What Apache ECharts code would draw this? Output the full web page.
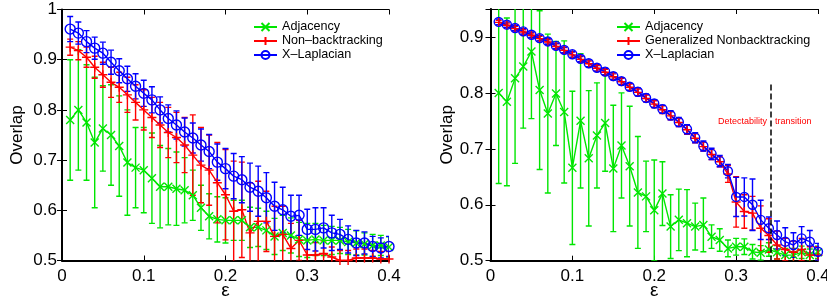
<!DOCTYPE html>
<html>
<head>
<meta charset="utf-8">
<title>overlap vs epsilon</title>
<script src="https://cdn.jsdelivr.net/npm/echarts@6/dist/echarts.min.js"></script>
<style>
  html, body { margin: 0; padding: 0; background: #fff; }
  #chart { width: 827px; height: 298px; }
</style>
</head>
<body>
<div id="chart"></div>
<script>
// x values (epsilon)
var eps = [0.01,0.02,0.03,0.04,0.05,0.06,0.07,0.08,0.09,0.10,
           0.11,0.12,0.13,0.14,0.15,0.16,0.17,0.18,0.19,0.20,
           0.21,0.22,0.23,0.24,0.25,0.26,0.27,0.28,0.29,0.30,
           0.31,0.32,0.33,0.34,0.35,0.36,0.37,0.38,0.39,0.40];

// left panel
var leftAdj = [0.78,0.80,0.775,0.735,0.763,0.75,0.728,0.695,0.685,0.68,0.664,0.647,0.647,0.643,0.64,0.63,0.605,0.588,0.582,0.58,
               0.58,0.58,0.566,0.566,0.56,0.548,0.555,0.55,0.542,0.54,0.542,0.54,0.54,0.54,0.537,0.535,0.533,0.53,0.53,0.527];
var leftAdjErr = [0.12,0.12,0.115,0.13,0.085,0.1,0.1,0.105,0.08,0.085,0.09,0.082,0.076,0.073,0.065,0.05,0.045,0.045,0.045,0.045,
                  0.04,0.04,0.04,0.038,0.038,0.036,0.035,0.035,0.034,0.034,0.032,0.03,0.028,0.026,0.025,0.024,0.022,0.022,0.02,0.02];
var leftNB = [0.925,0.918,0.905,0.885,0.87,0.855,0.845,0.83,0.815,0.8,0.785,0.77,0.755,0.745,0.73,0.71,0.69,0.68,0.655,0.631,
              0.598,0.601,0.555,0.578,0.578,0.548,0.552,0.524,0.54,0.511,0.511,0.514,0.507,0.5,0.5,0.505,0.505,0.505,0.503,0.503];
var leftNBErr = [0.016,0.018,0.02,0.022,0.025,0.03,0.03,0.035,0.035,0.04,0.04,0.045,0.05,0.05,0.055,0.08,0.075,0.07,0.08,0.09,
                 0.1,0.095,0.1,0.08,0.06,0.06,0.056,0.05,0.04,0.03,0.025,0.025,0.02,0.02,0.02,0.018,0.018,0.015,0.015,0.015];
var leftLap = [0.961,0.953,0.936,0.923,0.913,0.895,0.878,0.862,0.847,0.833,0.82,0.8,0.783,0.77,0.756,0.744,0.73,0.717,0.696,0.683,
               0.668,0.661,0.646,0.638,0.625,0.608,0.601,0.588,0.59,0.562,0.562,0.565,0.555,0.552,0.542,0.535,0.535,0.528,0.525,0.528];
var leftLapErr = [0.025,0.022,0.022,0.022,0.022,0.024,0.024,0.025,0.025,0.026,0.026,0.026,0.027,0.028,0.028,0.03,0.032,0.034,0.036,0.04,
                  0.045,0.046,0.048,0.05,0.05,0.048,0.045,0.042,0.04,0.04,0.043,0.04,0.035,0.03,0.027,0.025,0.022,0.02,0.02,0.02];

// right panel
var rightAdj = [0.80,0.784,0.826,0.847,0.874,0.805,0.763,0.799,0.766,0.666,0.75,0.683,0.724,0.746,0.665,0.706,0.669,0.622,0.615,0.59,
                0.62,0.561,0.573,0.567,0.561,0.564,0.543,0.537,0.522,0.525,0.525,0.516,0.514,0.52,0.515,0.51,0.51,0.515,0.51,0.515];
var rightAdjErr = [0.162,0.15,0.152,0.11,0.12,0.142,0.142,0.093,0.127,0.137,0.12,0.121,0.094,0.086,0.113,0.094,0.107,0.1,0.063,0.09,
                   0.057,0.057,0.055,0.06,0.042,0.048,0.021,0.02,0.015,0.015,0.014,0.013,0.013,0.012,0.012,0.012,0.012,0.011,0.011,0.011];
var rightNB = [0.926,0.921,0.915,0.909,0.903,0.897,0.891,0.883,0.876,0.868,0.86,0.852,0.844,0.837,0.829,0.82,0.81,0.801,0.79,0.78,
               0.77,0.759,0.747,0.734,0.719,0.704,0.69,0.677,0.655,0.605,0.588,0.585,0.558,0.545,0.528,0.52,0.515,0.52,0.51,0.51];
var rightNBErr = [0.004,0.004,0.004,0.004,0.004,0.004,0.004,0.005,0.005,0.005,0.005,0.005,0.005,0.005,0.005,0.006,0.006,0.006,0.006,0.006,
                  0.007,0.007,0.007,0.008,0.008,0.008,0.009,0.009,0.015,0.045,0.03,0.03,0.04,0.03,0.025,0.02,0.02,0.02,0.015,0.015];
var rightLap = [0.927,0.922,0.916,0.91,0.904,0.898,0.892,0.884,0.877,0.869,0.861,0.853,0.845,0.838,0.83,0.821,0.811,0.802,0.791,0.781,
                0.771,0.76,0.748,0.735,0.72,0.705,0.691,0.678,0.66,0.614,0.614,0.6,0.573,0.558,0.546,0.534,0.528,0.54,0.534,0.516];
var rightLapErr = [0.005,0.005,0.005,0.005,0.005,0.005,0.005,0.005,0.005,0.005,0.005,0.006,0.006,0.006,0.006,0.006,0.006,0.007,0.007,0.007,
                   0.007,0.008,0.008,0.008,0.009,0.009,0.01,0.01,0.012,0.035,0.034,0.046,0.035,0.02,0.025,0.025,0.022,0.021,0.02,0.015];

var xTicks = [0, 0.4, 0.1];   // min, max, step
var transitionEps = 0.342;

var GREEN = '#00e600', RED = '#ff0000', BLUE = '#0000ff';
var FONT = 'Liberation Sans';

var symX = 'path://M0,0L10,10M10,0L0,10';
var symPlus = 'path://M5,0L5,10M0,5L10,5';
var symCircle = 'path://M10,5A5,5 0 1 1 0,5A5,5 0 1 1 10,5Z';

function pts(vals) {
  return eps.map(function (x, i) { return [x, vals[i]]; });
}
function bars(vals, err) {
  return eps.map(function (x, i) { return [x, vals[i] - err[i], vals[i] + err[i]]; });
}

function errSeries(name, p, vals, err, color) {
  return {
    name: name, type: 'custom', xAxisIndex: p * 2, yAxisIndex: p * 2,
    clip: true, silent: true,
    data: bars(vals, err),
    encode: { x: 0, y: [1, 2] },
    renderItem: function (params, api) {
      var x = api.value(0);
      var lo = api.coord([x, api.value(1)]);
      var hi = api.coord([x, api.value(2)]);
      var w = 3;
      var st = { stroke: color, lineWidth: 1.4 };
      return { type: 'group', children: [
        { type: 'line', shape: { x1: lo[0], y1: lo[1], x2: hi[0], y2: hi[1] }, style: st },
        { type: 'line', shape: { x1: lo[0] - w, y1: lo[1], x2: lo[0] + w, y2: lo[1] }, style: st },
        { type: 'line', shape: { x1: hi[0] - w, y1: hi[1], x2: hi[0] + w, y2: hi[1] }, style: st }
      ]};
    }
  };
}

function lineSeries(name, p, vals, color, symbol, size, fill) {
  return {
    name: name, type: 'line', xAxisIndex: p * 2, yAxisIndex: p * 2,
    data: pts(vals),
    symbol: symbol, symbolSize: size, showSymbol: true,
    lineStyle: { color: color, width: 1.4 },
    itemStyle: { color: fill || color, borderColor: color, borderWidth: 1.4 },
    emphasis: { disabled: true }
  };
}

function xAxes(p) {
  return [{
    type: 'value', gridIndex: p, position: 'bottom',
    min: xTicks[0], max: xTicks[1], interval: xTicks[2],
    name: 'ε', nameLocation: 'middle', nameGap: 21, nameMoveOverlap: false,
    nameTextStyle: { fontFamily: FONT, fontSize: 19, color: '#000' },
    axisLine: { lineStyle: { color: '#000', width: 2 } },
    axisTick: { inside: true, length: 5, lineStyle: { color: '#000' } },
    axisLabel: { fontFamily: FONT, fontSize: 17, color: '#000', margin: 7 },
    splitLine: { show: false }
  }, {
    type: 'value', gridIndex: p, position: 'top',
    min: xTicks[0], max: xTicks[1], interval: xTicks[2],
    axisLine: { lineStyle: { color: '#000', width: 1 } },
    axisTick: { inside: true, length: 5, lineStyle: { color: '#000' } },
    axisLabel: { show: false },
    splitLine: { show: false }
  }];
}

function yAxes(p, max, gap, margin) {
  return [{
    type: 'value', gridIndex: p, position: 'left',
    min: 0.5, max: max, interval: 0.1,
    name: 'Overlap', nameLocation: 'middle', nameGap: gap, nameRotate: 90, nameMoveOverlap: false,
    nameTextStyle: { fontFamily: FONT, fontSize: 17, color: '#000' },
    axisLine: { lineStyle: { color: '#000', width: 2 } },
    axisTick: { inside: true, length: 5, lineStyle: { color: '#000' } },
    axisLabel: { fontFamily: FONT, fontSize: 17, color: '#000', margin: margin, showMaxLabel: max === 1 },
    splitLine: { show: false }
  }, {
    type: 'value', gridIndex: p, position: 'right',
    min: 0.5, max: max, interval: 0.1,
    axisLine: { lineStyle: { color: '#000', width: 1 } },
    axisTick: { inside: true, length: 5, lineStyle: { color: '#000' } },
    axisLabel: { show: false },
    splitLine: { show: false }
  }];
}

function legendAt(left, names) {
  return {
    data: names, orient: 'vertical', left: left, top: 15.5,
    itemWidth: 23, itemHeight: 10, itemGap: 1,
    selectedMode: false,
    textStyle: { fontFamily: FONT, fontSize: 12.6, lineHeight: 13, color: '#000' }
  };
}

var chart = echarts.init(document.getElementById('chart'), null, { renderer: 'canvas' });

var series = [
  errSeries('adjErrL', 0, leftAdj, leftAdjErr, GREEN),
  lineSeries('Adjacency', 0, leftAdj, GREEN, symX, 8),
  errSeries('nbErrL', 0, leftNB, leftNBErr, RED),
  lineSeries('Non–backtracking', 0, leftNB, RED, symPlus, 9),
  errSeries('lapErrL', 0, leftLap, leftLapErr, BLUE),
  lineSeries('X–Laplacian', 0, leftLap, BLUE, symCircle, 10, 'rgba(0,0,0,0)'),

  errSeries('adjErrR', 1, rightAdj, rightAdjErr, GREEN),
  lineSeries('Adjacency', 1, rightAdj, GREEN, symX, 8),
  errSeries('nbErrR', 1, rightNB, rightNBErr, RED),
  lineSeries('Generalized Nonbacktracking', 1, rightNB, RED, symPlus, 9),
  errSeries('lapErrR', 1, rightLap, rightLapErr, BLUE),
  lineSeries('X–Laplacian', 1, rightLap, BLUE, symCircle, 9, 'rgba(0,0,0,0)')
];

// detectability transition line on the right panel
series[11].markLine = {
  silent: true, symbol: 'none', animation: false,
  label: { show: false },
  lineStyle: { color: '#000', type: [6, 3], width: 1.5 },
  data: [[{ coord: [transitionEps, 0.815] }, { coord: [transitionEps, 0.5] }]]
};

var option = {
  animation: false,
  backgroundColor: '#fff',
  grid: [
    { left: 62, top: 9.5, width: 327, height: 251, outerBoundsMode: 'none', containLabel: false },
    { left: 490.5, top: 9, width: 327.5, height: 251.7, outerBoundsMode: 'none', containLabel: false }
  ],
  xAxis: xAxes(0).concat(xAxes(1)),
  yAxis: yAxes(0, 1, 36, 5).concat(yAxes(1, 0.95, 35, 7)),
  legend: [
    legendAt(248, ['Adjacency', 'Non–backtracking', 'X–Laplacian']),
    legendAt(611, ['Adjacency', 'Generalized Nonbacktracking', 'X–Laplacian'])
  ],
  graphic: [
    { type: 'text', left: 718, top: 117, style: { text: 'Detectability', fill: RED, font: '9px "Liberation Sans"' } },
    { type: 'text', left: 775, top: 117, style: { text: 'transition', fill: RED, font: '9px "Liberation Sans"' } }
  ],
  series: series
};

chart.setOption(option);
</script>
</body>
</html>
